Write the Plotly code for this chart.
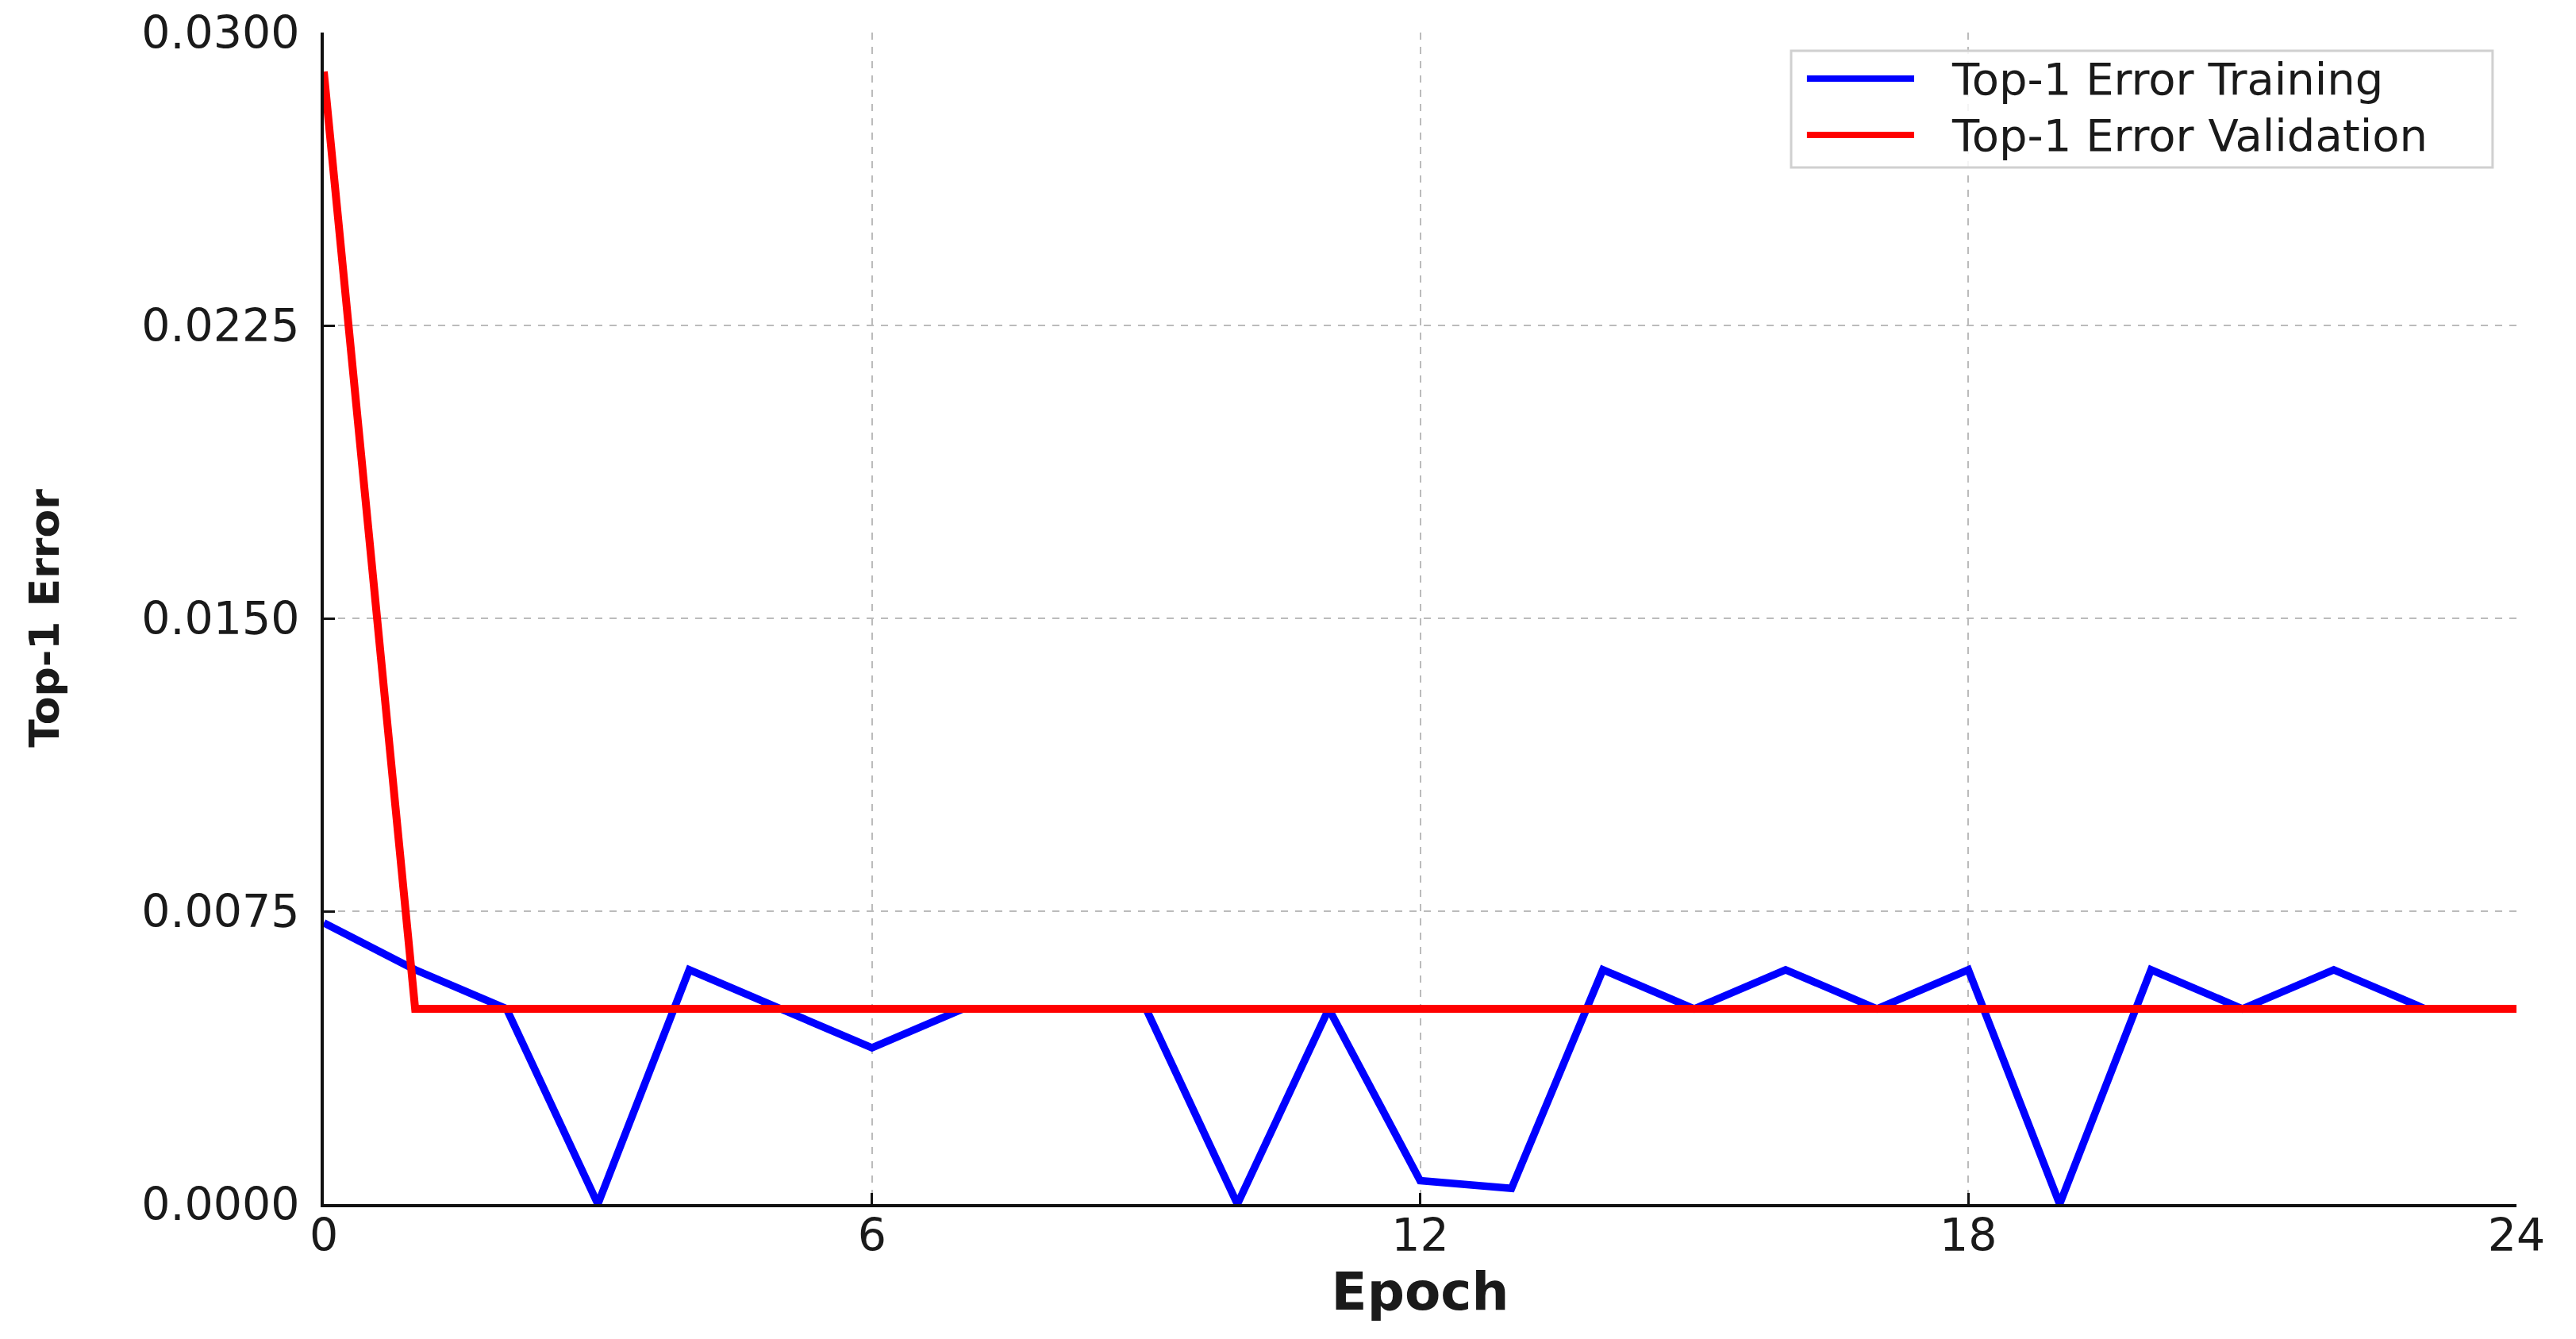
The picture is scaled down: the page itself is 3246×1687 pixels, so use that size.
import plotly.graph_objects as go

epochs = list(range(25))
train_err = [0.0072, 0.0060, 0.0050, 0.0000, 0.0060, 0.0050, 0.0040, 0.0050, 0.0050, 0.0050,
             0.0000, 0.0050, 0.0006, 0.0004, 0.0060, 0.0050, 0.0060, 0.0050, 0.0060, 0.0000,
             0.0060, 0.0050, 0.0060, 0.0050, 0.0050]
val_err = [0.0290] + [0.0050] * 24
x_ticks = [0, 6, 12, 18, 24]
y_ticks = [0.0, 0.0075, 0.0150, 0.0225, 0.0300]
series_names = ["Top-1 Error Training", "Top-1 Error Validation"]
series_colors = ["#0000ff", "#ff0000"]

fig = go.Figure()
fig.add_trace(go.Scatter(x=epochs, y=train_err, mode="lines", name=series_names[0],
                         line=dict(color=series_colors[0], width=9.5), showlegend=False,
                         cliponaxis=True))
fig.add_trace(go.Scatter(x=epochs, y=val_err, mode="lines", name=series_names[1],
                         line=dict(color=series_colors[1], width=10), showlegend=False,
                         cliponaxis=True))

axis_common = dict(
    showline=True, linecolor="#111111", linewidth=4, mirror=False,
    ticks="inside", ticklen=14, tickwidth=3, tickcolor="#111111",
    showgrid=True, gridcolor="#bbbbbb", gridwidth=2, griddash="dash",
    zeroline=False, tickfont=dict(family="DejaVu Sans", size=57, color="#1a1a1a"),
    ticklabeloverflow="allow", automargin=False,
)

fig.update_layout(
    width=3246, height=1687,
    paper_bgcolor="white", plot_bgcolor="white",
    margin=dict(l=400, r=83, t=33, b=178, autoexpand=False),
    font=dict(family="DejaVu Sans", color="#1a1a1a"),
    xaxis=dict(range=[0, 24], tickvals=x_ticks, ticktext=[str(v) for v in x_ticks],
               ticklabelstandoff=-13,
               title=dict(text="<b>Epoch</b>", font=dict(size=66, family="DejaVu Sans"), standoff=4),
               **axis_common),
    yaxis=dict(range=[0, 0.03], tickvals=y_ticks, ticktext=[f"{v:.4f}" for v in y_ticks],
               ticklabelstandoff=15,
               title=dict(text="<b>Top-1 Error</b>", font=dict(size=52, family="DejaVu Sans"), standoff=88),
               **axis_common),
    showlegend=False,
)

# Custom legend box (matplotlib-style), placed in the upper right of the plot area
lx0, lx1, ly0, ly1 = 0.6692, 0.9891, 0.8848, 0.9844
fig.add_shape(type="rect", xref="paper", yref="paper", x0=lx0, x1=lx1, y0=ly0, y1=ly1,
              line=dict(color="#d0d0d0", width=3), fillcolor="rgba(255,255,255,0.85)", layer="above")
row_y = [0.9607, 0.9126]
for name, color, yy in zip(series_names, series_colors, row_y):
    fig.add_shape(type="line", xref="paper", yref="paper", x0=0.6764, x1=0.7253, y0=yy, y1=yy,
                  line=dict(color=color, width=8), layer="above")
    fig.add_annotation(xref="paper", yref="paper", x=0.7416, y=yy, text=name, showarrow=False,
                       xanchor="left", yanchor="middle",
                       font=dict(family="DejaVu Sans", size=56, color="#1a1a1a"))

fig.write_html("out.html")
